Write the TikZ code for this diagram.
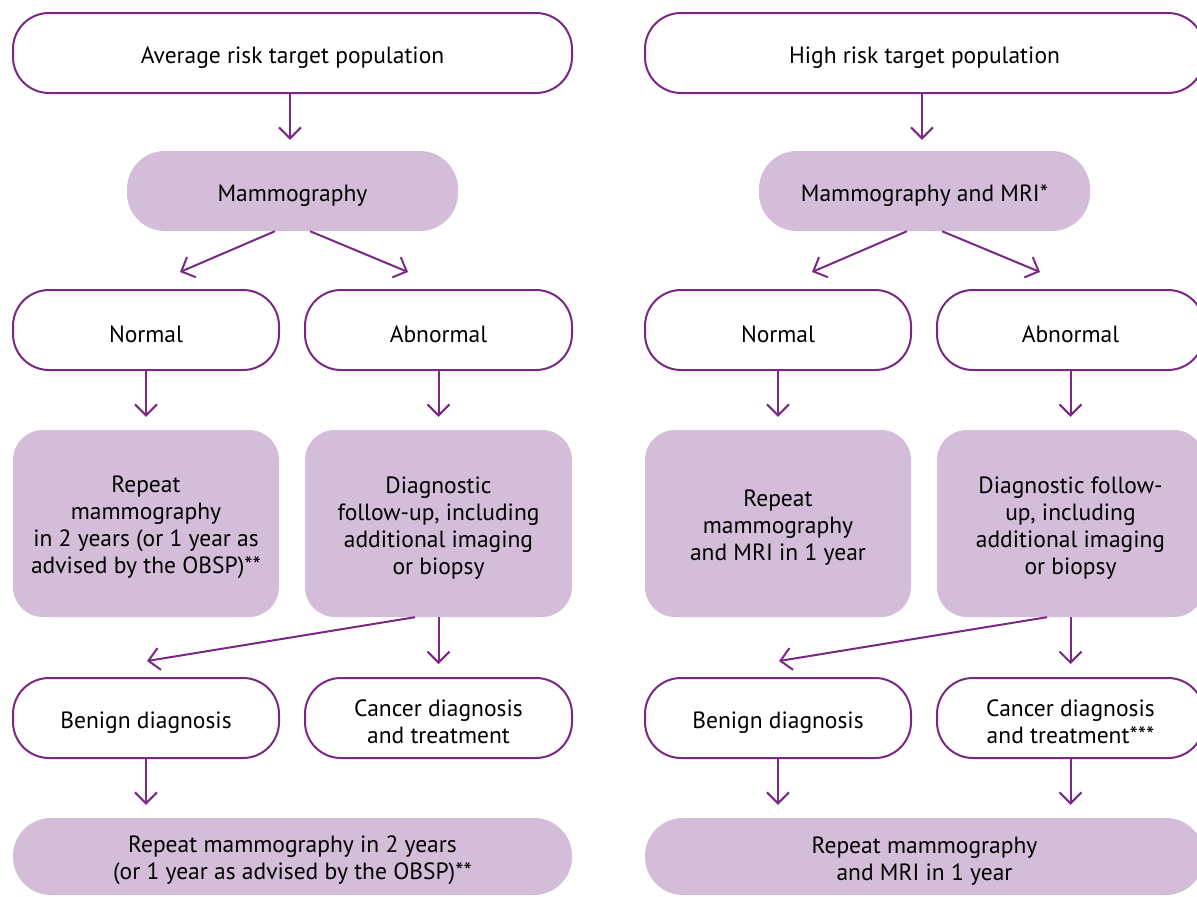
\documentclass[tikz,border=0pt]{standalone}
\usepackage{fontspec}
\setmainfont{PT Sans}
\usetikzlibrary{arrows.meta}
\definecolor{vio}{RGB}{122,40,132}
\definecolor{lil}{RGB}{211,189,216}
\newcommand\tstrut{\rule{0pt}{25pt}}
\begin{document}
\begin{tikzpicture}[x=1pt,y=-1pt,
  txt/.style={align=center, inner sep=0pt, text=black, font=\fontsize{23.5}{27}\selectfont,
    execute at begin node={\tstrut}},
  obox/.style={txt, draw=vio, line width=2pt, fill=white, rounded corners=36pt},
  pbox/.style={txt, fill=lil, rounded corners=38pt},
  tbox/.style={txt, fill=lil, rounded corners=30pt},
  arr/.style={draw=vio, line width=2pt, -{Straight Barb[length=11pt,width=22pt,line width=2pt]}}]
\useasboundingbox (0,0) rectangle (1197,897);
% ---------- left column ----------
\node[obox, minimum width=559pt, minimum height=80pt] (Ltop) at (292.5,53) {Average risk target population};
\node[pbox, minimum width=331pt, minimum height=80pt] (Lmam) at (292.5,191) {Mammography};
\node[obox, minimum width=266pt, minimum height=80pt] (Lnor) at (146,330) {Normal};
\node[obox, minimum width=267pt, minimum height=80pt] (Labn) at (438.5,330) {Abnormal};
\node[tbox, minimum width=266pt, minimum height=187pt] (Lrep) at (146,523.5) {\tstrut Repeat\\mammography\\in 2 years (or 1 year as\\advised by the OBSP)**};
\node[tbox, minimum width=267pt, minimum height=187pt] (Ldia) at (438.5,523.5) {\tstrut Diagnostic\\follow-up, including\\additional imaging\\or biopsy};
\node[obox, minimum width=266pt, minimum height=80pt] (Lben) at (146,718) {Benign diagnosis};
\node[obox, minimum width=267pt, minimum height=80pt] (Lcan) at (438.5,718) {\tstrut Cancer diagnosis\\and treatment};
\node[pbox, minimum width=559pt, minimum height=77pt] (Lbot) at (292.5,856.5) {\tstrut Repeat mammography in 2 years\\(or 1 year as advised by the OBSP)**};
% ---------- right column ----------
\node[obox, minimum width=559pt, minimum height=80pt] (Rtop) at (924.5,53) {High risk target population};
\node[pbox, minimum width=331pt, minimum height=80pt] (Rmam) at (924.5,191) {Mammography and MRI*};
\node[obox, minimum width=266pt, minimum height=80pt] (Rnor) at (778,330) {Normal};
\node[obox, minimum width=267pt, minimum height=80pt] (Rabn) at (1070.5,330) {Abnormal};
\node[tbox, minimum width=266pt, minimum height=187pt] (Rrep) at (778,523.5) {\tstrut Repeat\\mammography\\and MRI in 1 year};
\node[tbox, minimum width=267pt, minimum height=187pt] (Rdia) at (1070.5,523.5) {\tstrut Diagnostic follow-\\up, including\\additional imaging\\or biopsy};
\node[obox, minimum width=266pt, minimum height=80pt] (Rben) at (778,718) {Benign diagnosis};
\node[obox, minimum width=267pt, minimum height=80pt] (Rcan) at (1070.5,718) {\tstrut Cancer diagnosis\\and treatment***};
\node[pbox, minimum width=559pt, minimum height=77pt] (Rbot) at (924.5,856.5) {\tstrut Repeat mammography\\and MRI in 1 year};
% ---------- connectors ----------
\foreach \s in {L,R}{
  \draw[arr, shorten >=11pt] ([xshift=-2.5pt]\s top.south) -- ([xshift=-2.5pt]\s top.south |- \s mam.north);
  \draw[arr] ([xshift=-17.5pt]\s mam.south) -- ([xshift=34pt,yshift=17pt]\s nor.north);
  \draw[arr] ([xshift=17.5pt]\s mam.south) -- ([xshift=-30.5pt,yshift=17pt]\s abn.north);
  \draw[arr, shorten >=13pt] (\s nor.south) -- (\s rep.north);
  \draw[arr, shorten >=13pt] (\s abn.south) -- (\s dia.north);
  \draw[arr] ([xshift=-23.5pt]\s dia.south) -- ([xshift=1pt,yshift=16pt]\s ben.north);
  \draw[arr, shorten >=13pt] (\s dia.south) -- (\s can.north);
  \draw[arr, shorten >=13pt] (\s ben.south) -- (\s ben.south |- \s bot.north);
}
\draw[arr, shorten >=13pt] (Rcan.south) -- (Rcan.south |- Rbot.north);
\end{tikzpicture}
\end{document}
